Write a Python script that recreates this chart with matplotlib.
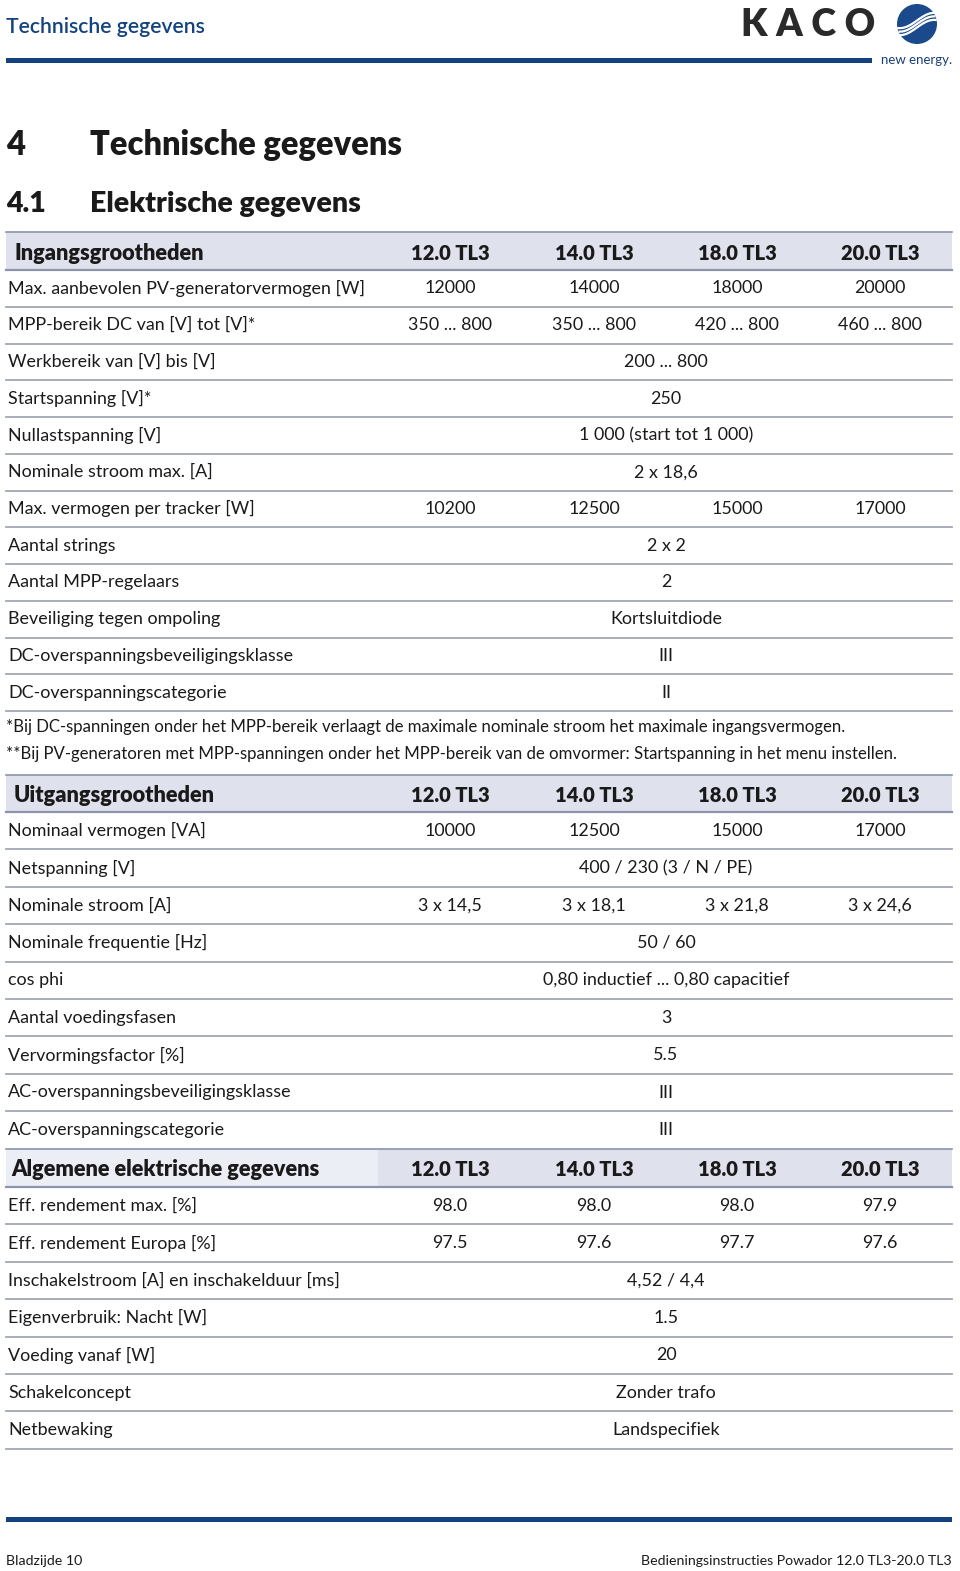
import numpy as np
import matplotlib
matplotlib.use("Agg")
import matplotlib.pyplot as plt
from matplotlib import font_manager
from matplotlib.patches import Rectangle, Circle

# ---- table content ----
col_labels = ["12.0 TL3", "14.0 TL3", "18.0 TL3", "20.0 TL3"]

in_title = "Ingangsgrootheden"
in_labels = ["Max. aanbevolen PV-generatorvermogen [W]", "MPP-bereik DC van [V] tot [V]*",
             "Werkbereik van [V] bis [V]", "Startspanning [V]*", "Nullastspanning [V]",
             "Nominale stroom max. [A]", "Max. vermogen per tracker [W]", "Aantal strings",
             "Aantal MPP-regelaars", "Beveiliging tegen ompoling",
             "DC-overspanningsbeveiligingsklasse", "DC-overspanningscategorie"]
in_values = [["12000", "14000", "18000", "20000"],
             ["350 ... 800", "350 ... 800", "420 ... 800", "460 ... 800"],
             ["200 ... 800"], ["250"], ["1 000 (start tot 1 000)"], ["2 x 18,6"],
             ["10200", "12500", "15000", "17000"], ["2 x 2"], ["2"], ["Kortsluitdiode"],
             ["III"], ["II"]]

notes = ["*Bij DC-spanningen onder het MPP-bereik verlaagt de maximale nominale stroom het maximale ingangsvermogen.",
         "**Bij PV-generatoren met MPP-spanningen onder het MPP-bereik van de omvormer: Startspanning in het menu instellen."]

out_title = "Uitgangsgrootheden"
out_labels = ["Nominaal vermogen [VA]", "Netspanning [V]", "Nominale stroom [A]",
              "Nominale frequentie [Hz]", "cos phi", "Aantal voedingsfasen",
              "Vervormingsfactor [%]", "AC-overspanningsbeveiligingsklasse",
              "AC-overspanningscategorie"]
out_values = [["10000", "12500", "15000", "17000"], ["400 / 230 (3 / N / PE)"],
              ["3 x 14,5", "3 x 18,1", "3 x 21,8", "3 x 24,6"], ["50 / 60"],
              ["0,80 inductief ... 0,80 capacitief"], ["3"], ["5.5"], ["III"], ["III"]]

gen_title = "Algemene elektrische gegevens"
gen_labels = ["Eff. rendement max. [%]", "Eff. rendement Europa [%]",
              "Inschakelstroom [A] en inschakelduur [ms]", "Eigenverbruik: Nacht [W]",
              "Voeding vanaf [W]", "Schakelconcept", "Netbewaking"]
gen_values = [["98.0", "98.0", "98.0", "97.9"], ["97.5", "97.6", "97.7", "97.6"],
              ["4,52 / 4,4"], ["1.5"], ["20"], ["Zonder trafo"], ["Landspecifiek"]]

# ---- fonts / colours ----
names = set(f.name for f in font_manager.fontManager.ttflist)
BODY = "Lato" if "Lato" in names else "DejaVu Sans"

BLUE = "#13427f"
HDR_BG = "#dfe2ed"
HDR_BG2 = "#eceef5"
HDR_LINE = "#8c93aa"
ROW_LINE = "#a3a7b3"
TXT = "#1a1a1a"
HEAVY = "heavy"

W, H = 960, 1571
fig = plt.figure(figsize=(W / 100, H / 100), dpi=100)
ax = fig.add_axes([0, 0, 1, 1])
ax.set_xlim(0, W)
ax.set_ylim(H, 0)
ax.axis("off")

L, R = 6, 952
col_x = [450, 594, 737, 880]
merged_x = 666

# ---- page header ----
ax.text(6, 27, "Technische gegevens", fontsize=15.2, color=BLUE, family=BODY,
        fontweight="semibold", va="center", ha="left")
ax.add_patch(Rectangle((6, 58), 866, 5, color=BLUE, lw=0))
ax.text(808, 25, "K A C O", fontsize=27, color="#2a2a2a", family=BODY,
        fontweight=HEAVY, va="center", ha="center")
ax.add_patch(Circle((917, 24), 20, color="#1b4a8c", lw=0))
t = np.linspace(-1, 1, 60)
for k in range(3):
    off = (k - 1) * 3.5
    xs = 917 + 20 * t
    ys = 24 + off - 9 * np.sin(t * np.pi * 0.5) * np.cos(t * 0.6)
    keep = (xs - 917) ** 2 + (ys - 24) ** 2 < 19.5 ** 2
    ax.plot(xs[keep], ys[keep], color="white", lw=1.6)
ax.text(952, 60, "new energy.", fontsize=9.5, color="#1b3f77", family=BODY,
        va="center", ha="right")

# ---- headings ----
ax.text(6, 145, "4", fontsize=23.5, fontweight=HEAVY, family=BODY, color=TXT, va="center")
ax.text(90, 145, "Technische gegevens", fontsize=23.5, fontweight=HEAVY, family=BODY,
        color=TXT, va="center")
ax.text(6, 204, "4.1", fontsize=20.5, fontweight=HEAVY, family=BODY, color=TXT, va="center")
ax.text(90, 204, "Elektrische gegevens", fontsize=20.5, fontweight=HEAVY, family=BODY,
        color=TXT, va="center")


def header_row(y0, y1, title, split=False):
    if split:
        ax.add_patch(Rectangle((L, y0), 378 - L, y1 - y0, color=HDR_BG2, lw=0))
        ax.add_patch(Rectangle((378, y0), R - 378, y1 - y0, color=HDR_BG, lw=0))
    else:
        ax.add_patch(Rectangle((L, y0), R - L, y1 - y0, color=HDR_BG, lw=0))
    ax.plot([L, R], [y0, y0], color=HDR_LINE, lw=1.2)
    ax.plot([L, R], [y1, y1], color=HDR_LINE, lw=1.6)
    yc = (y0 + y1) / 2 + 2
    ax.text(14 if not split else 11, yc, title, fontsize=15.7, fontweight=HEAVY,
            family=BODY, color=TXT, va="center")
    for x, lab in zip(col_x, col_labels):
        ax.text(x, yc, lab, fontsize=14.5, fontweight=HEAVY, family=BODY,
                color=TXT, va="center", ha="center")


def body_rows(y0, row_h, labels, values, last_line=True):
    for i, (lab, vals) in enumerate(zip(labels, values)):
        yc = y0 + (i + 0.5) * row_h
        ax.text(8, yc, lab, fontsize=12.9, family=BODY, color=TXT, va="center")
        if len(vals) == 1:
            ax.text(merged_x, yc, vals[0], fontsize=12.9, family=BODY, color=TXT,
                    va="center", ha="center")
        else:
            for x, v in zip(col_x, vals):
                ax.text(x, yc, v, fontsize=12.9, family=BODY, color=TXT,
                        va="center", ha="center")
        yl = y0 + (i + 1) * row_h
        if i < len(labels) - 1 or last_line:
            ax.plot([L, R], [yl, yl], color=ROW_LINE, lw=1.3)


header_row(232, 270, in_title)
body_rows(270, 36.75, in_labels, in_values)

for yy, note in zip([727, 754], notes):
    ax.text(6, yy, note, fontsize=12.1, family=BODY, color=TXT, va="center")

header_row(775, 812, out_title)
body_rows(812, 37.4, out_labels, out_values, last_line=False)

header_row(1149, 1187, gen_title, split=True)
body_rows(1187, 37.4, gen_labels, gen_values)

# ---- footer ----
ax.add_patch(Rectangle((6, 1517), 946, 5, color=BLUE, lw=0))
ax.text(6, 1561, "Bladzijde 10", fontsize=10.2, family=BODY, color=TXT, va="center")
ax.text(952, 1561, "Bedieningsinstructies Powador 12.0 TL3-20.0 TL3", fontsize=10.2,
        family=BODY, color=TXT, va="center", ha="right")

fig.savefig("out.png", dpi=100, facecolor="white")
